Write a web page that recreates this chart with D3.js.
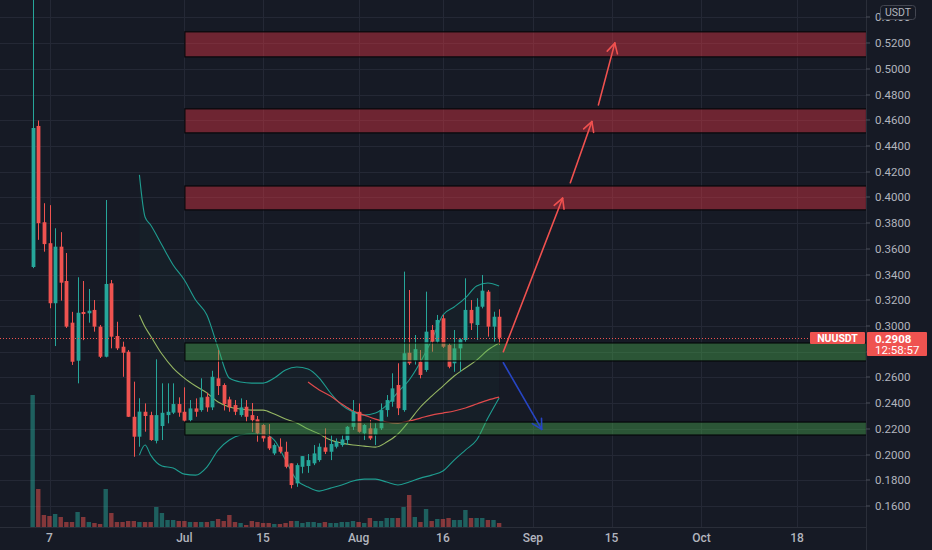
<!DOCTYPE html>
<html>
<head>
<meta charset="utf-8">
<script src="https://cdn.jsdelivr.net/npm/d3@7"></script>
<style>
  html, body { margin: 0; padding: 0; background: #161a25; }
  svg { display: block; font-family: "Roboto", "Liberation Sans", sans-serif; }
</style>
</head>
<body>
<svg id="chart" width="932" height="550"></svg>
<script>
// daily candles NUUSDT, 2021-06-04 .. 2021-08-26
var firstDay = "2021-06-04", lastDay = "2021-08-26";

var opens = [
  0.3459, 0.4556, 0.3807, 0.3644, 0.3177, 0.3617, 0.3350, 0.3026, 0.2730, 0.3109,
  0.3099, 0.3125, 0.2995, 0.2761, 0.3332, 0.2922, 0.2839, 0.2800, 0.2294, 0.2139,
  0.2333, 0.2307, 0.2107, 0.2222, 0.2307, 0.2326, 0.2393,
  0.2333, 0.2268, 0.2359, 0.2346, 0.2450, 0.2367, 0.2593, 0.2541, 0.2429, 0.2385,
  0.2307, 0.2372, 0.2307, 0.2274, 0.2230, 0.2139, 0.2009, 0.2061, 0.2022, 0.1932,
  0.1776, 0.1905, 0.1911, 0.1932, 0.1957, 0.2056, 0.2022, 0.2061, 0.2074, 0.2113, 0.2216,
  0.2333, 0.2165, 0.2204, 0.2152, 0.2204, 0.2346, 0.2411, 0.2541, 0.2346, 0.2792,
  0.2730, 0.2722, 0.2658, 0.2969, 0.2878, 0.3060, 0.2852, 0.2710, 0.2826, 0.2891,
  0.3125, 0.3008, 0.3150, 0.3267, 0.2995, 0.3072
];
var highs = [
  0.6000, 0.4598, 0.3955, 0.3940, 0.3760, 0.3730, 0.3568, 0.3110, 0.3379, 0.3350,
  0.3288, 0.3202, 0.3008, 0.3980, 0.3358, 0.3033, 0.2878, 0.2813, 0.2567, 0.2438,
  0.2398, 0.2333, 0.2741, 0.2554, 0.2554, 0.2554, 0.2445,
  0.2523, 0.2424, 0.2437, 0.2593, 0.2481, 0.2652, 0.2813, 0.2554, 0.2450, 0.2424,
  0.2437, 0.2424, 0.2401, 0.2300, 0.2237, 0.2237, 0.2087, 0.2126, 0.2100, 0.1932,
  0.1932, 0.1988, 0.2004, 0.2074, 0.2087, 0.2204, 0.2152, 0.2126, 0.2152, 0.2222, 0.2424,
  0.2398, 0.2237, 0.2268, 0.2243, 0.2398, 0.2463, 0.2632, 0.2710, 0.3423, 0.3280,
  0.2930, 0.2813, 0.3267, 0.3008, 0.3086, 0.3086, 0.2865, 0.2969, 0.2904, 0.3371,
  0.3202, 0.3216, 0.3397, 0.3280, 0.3111, 0.3130
];
var lows = [
  0.3450, 0.3670, 0.3578, 0.3138, 0.2844, 0.3197, 0.2985, 0.2697, 0.2554, 0.2890,
  0.3026, 0.2956, 0.2751, 0.2756, 0.2826, 0.2813, 0.2605, 0.2292, 0.1983, 0.2061,
  0.2178, 0.2107, 0.2087, 0.2113, 0.2243, 0.2315, 0.2294,
  0.2256, 0.2256, 0.2294, 0.2333, 0.2333, 0.2346, 0.2463, 0.2343, 0.2333, 0.2307,
  0.2294, 0.2256, 0.2177, 0.2100, 0.2100, 0.2035, 0.1996, 0.2009, 0.1893, 0.1737,
  0.1749, 0.1854, 0.1858, 0.1918, 0.1944, 0.2004, 0.1957, 0.2048, 0.2061, 0.2074, 0.2191,
  0.2170, 0.2113, 0.2113, 0.2074, 0.2191, 0.2294, 0.2372, 0.2307, 0.2333, 0.2697,
  0.2700, 0.2593, 0.2644, 0.2800, 0.2865, 0.2829, 0.2671, 0.2644, 0.2644, 0.2878,
  0.2969, 0.2891, 0.3137, 0.2917, 0.2878, 0.2852
];
var closes = [
  0.4540, 0.3800, 0.3637, 0.3177, 0.3617, 0.3337, 0.2995, 0.2722, 0.3103, 0.3093,
  0.3119, 0.2995, 0.2761, 0.3327, 0.2917, 0.2826, 0.2792, 0.2294, 0.2139, 0.2334,
  0.2300, 0.2113, 0.2307, 0.2325, 0.2333, 0.2393, 0.2326,
  0.2264, 0.2359, 0.2333, 0.2445, 0.2367, 0.2605, 0.2533, 0.2393, 0.2367, 0.2333,
  0.2367, 0.2294, 0.2268, 0.2165, 0.2126, 0.2048, 0.2074, 0.2022, 0.1905, 0.1763,
  0.1918, 0.1988, 0.1957, 0.2009, 0.2061, 0.2022, 0.2082, 0.2100, 0.2118, 0.2216, 0.2333,
  0.2177, 0.2230, 0.2126, 0.2204, 0.2346, 0.2424, 0.2515, 0.2360, 0.2788, 0.2710,
  0.2820, 0.2619, 0.2956, 0.2878, 0.3047, 0.2839, 0.2683, 0.2826, 0.2896, 0.3125,
  0.3021, 0.3150, 0.3275, 0.2995, 0.3072, 0.2908
];
var volumes = [
  132, 38, 12, 11, 13, 10, 5, 5, 15, 10,
  5, 4, 3, 38, 14, 5, 5, 6, 6, 5,
  5, 5, 20, 14, 7, 7, 6,
  6, 5, 5, 5, 5, 6, 8, 6, 12, 5,
  4, 2, 6, 5, 4, 4, 3, 3, 4, 6,
  6, 4, 5, 5, 4, 5, 4, 4, 5, 5, 6,
  5, 4, 9, 6, 6, 9, 9, 9, 20, 32,
  10, 5, 18, 6, 8, 8, 9, 7, 7, 17,
  9, 9, 9, 7, 7, 4
];

// Bollinger bands (20, 2)
var bandDates = [
  "2021-06-23", "2021-06-24", "2021-06-25", "2021-06-27", "2021-06-29", "2021-07-01",
  "2021-07-03", "2021-07-05", "2021-07-07", "2021-07-09", "2021-07-11", "2021-07-13",
  "2021-07-15", "2021-07-17", "2021-07-19", "2021-07-21", "2021-07-23", "2021-07-25",
  "2021-07-27", "2021-07-29", "2021-07-31", "2021-08-02", "2021-08-04", "2021-08-06",
  "2021-08-08", "2021-08-10", "2021-08-12", "2021-08-14", "2021-08-16", "2021-08-18",
  "2021-08-20", "2021-08-22", "2021-08-24", "2021-08-26"
];
var bandUpper = [
  0.4175, 0.3848, 0.3786, 0.3630, 0.3475, 0.3358, 0.3202, 0.3086, 0.2829, 0.2595,
  0.2564, 0.2556, 0.2556, 0.2595, 0.2658, 0.2681, 0.2665, 0.2595, 0.2479, 0.2385,
  0.2331, 0.2307, 0.2323, 0.2385, 0.2486, 0.2580, 0.2720, 0.2891, 0.3086, 0.3148,
  0.3218, 0.3311, 0.3335, 0.3311
];
var bandBasis = [
  0.3086, 0.2992, 0.2922, 0.2782, 0.2673, 0.2595, 0.2533, 0.2480, 0.2409, 0.2370,
  0.2354, 0.2346, 0.2346, 0.2315, 0.2276, 0.2245, 0.2198, 0.2160, 0.2113, 0.2089,
  0.2074, 0.2066, 0.2058, 0.2097, 0.2160, 0.2261, 0.2370, 0.2455, 0.2533, 0.2611,
  0.2673, 0.2735, 0.2813, 0.2868
];
var bandLower = [
  0.1996, 0.2074, 0.1996, 0.1911, 0.1895, 0.1848, 0.1840, 0.1903, 0.2035, 0.2113,
  0.2152, 0.2160, 0.2160, 0.2113, 0.1957, 0.1802, 0.1747, 0.1716, 0.1739, 0.1763,
  0.1794, 0.1809, 0.1809, 0.1786, 0.1763, 0.1786, 0.1817, 0.1840, 0.1872, 0.1957,
  0.2035, 0.2113, 0.2284, 0.2440
];

// 50 day moving average
var smaDates = [
  "2021-07-23", "2021-07-25", "2021-07-27", "2021-07-29", "2021-07-31", "2021-08-02",
  "2021-08-04", "2021-08-06", "2021-08-08", "2021-08-10", "2021-08-12", "2021-08-14",
  "2021-08-16", "2021-08-18", "2021-08-20", "2021-08-22", "2021-08-24", "2021-08-26"
];
var smaValues = [
  0.2564, 0.2502, 0.2455, 0.2393, 0.2339, 0.2307, 0.2276, 0.2253, 0.2245, 0.2261,
  0.2284, 0.2307, 0.2323, 0.2339, 0.2362, 0.2393, 0.2424, 0.2447
];

// drawn zones and arrows
var zoneStart = "2021-07-01";
var resistanceZones = [[0.5093, 0.5288], [0.4502, 0.4689], [0.3903, 0.4089]];
var supportZones = [[0.2728, 0.2868], [0.2152, 0.2253]];
var upArrows = [
  [["2021-08-26 18:00", 0.2800], ["2021-09-06 07:00", 0.3994]],
  [["2021-09-07 16:00", 0.4115], ["2021-09-11 12:00", 0.4590]],
  [["2021-09-12 16:00", 0.4720], ["2021-09-15 14:00", 0.5200]]
];
var downArrows = [
  [["2021-08-26 18:00", 0.2714], ["2021-09-02 14:00", 0.2196]]
];

// 0.28 sits under the last price label, so it gets a grid line but no text
var priceTicks = [0.16, 0.18, 0.20, 0.22, 0.24, 0.26, 0.28, 0.30, 0.32, 0.34, 0.36,
  0.38, 0.40, 0.42, 0.44, 0.46, 0.48, 0.50, 0.52, 0.54];
var hiddenTicks = [0.28];
var timeTicks = ["2021-06-07", "2021-07-01", "2021-07-15", "2021-08-01", "2021-08-16",
  "2021-09-01", "2021-09-15", "2021-10-01", "2021-10-18"];
var timeLabels = ["7", "Jul", "15", "Aug", "16", "Sep", "15", "Oct", "18"];

var symbol = "NUUSDT", currency = "USDT", countdown = "12:58:57";
var lastPrice = closes[closes.length - 1];

(function () {
  'use strict';
  var W = 932, H = 550, plotW = 866, plotH = 527;
  var upColor = "#26a69a", downColor = "#ef5350";
  var parseDay = d3.timeParse("%Y-%m-%d");
  var parseTime = d3.timeParse("%Y-%m-%d %H:%M");

  var days = d3.timeDay.range(parseDay(firstDay), d3.timeDay.offset(parseDay(lastDay), 1));
  var candles = days.map(function (d, i) {
    return {date: d, o: opens[i], h: highs[i], l: lows[i], c: closes[i], v: volumes[i]};
  });

  var x = d3.scaleTime()
    .domain([parseDay("2021-06-07"), parseDay("2021-10-18")])
    .range([49.5, 797]);
  var y = d3.scaleLinear().domain([0.16, 0.30]).range([506, 326]);
  var yVol = d3.scaleLinear().domain([0, d3.max(volumes)]).range([plotH, 395]);

  var svg = d3.select("#chart");
  svg.append("rect").attr("width", W).attr("height", H).attr("fill", "#161a25");

  svg.append("defs").append("clipPath").attr("id", "plot")
    .append("rect").attr("width", plotW).attr("height", plotH);

  // grid
  var grid = svg.append("g").attr("stroke", "#242835").attr("stroke-width", 1);
  grid.selectAll(".hg").data(priceTicks).enter().append("line")
    .attr("x1", 0).attr("x2", plotW)
    .attr("y1", function (d) { return Math.round(y(d)) + 0.5; })
    .attr("y2", function (d) { return Math.round(y(d)) + 0.5; });
  grid.selectAll(".vg").data(timeTicks).enter().append("line")
    .attr("y1", 0).attr("y2", plotH)
    .attr("x1", function (d) { return Math.round(x(parseDay(d))) + 0.5; })
    .attr("x2", function (d) { return Math.round(x(parseDay(d))) + 0.5; });

  var plot = svg.append("g").attr("clip-path", "url(#plot)");

  // volume
  plot.selectAll(".vol").data(candles).enter().append("rect")
    .attr("x", function (d) { return x(d.date) - 2.2; })
    .attr("width", 4.4)
    .attr("y", function (d) { return yVol(d.v); })
    .attr("height", function (d) { return plotH - yVol(d.v); })
    .attr("fill", function (d) { return d.c >= d.o ? upColor : downColor; })
    .attr("fill-opacity", 0.5);

  // bollinger bands
  var band = bandDates.map(function (d, i) {
    return {date: parseDay(d), up: bandUpper[i], mid: bandBasis[i], low: bandLower[i]};
  });
  plot.append("path").datum(band)
    .attr("fill", "#26a69a").attr("fill-opacity", 0.035)
    .attr("d", d3.area().curve(d3.curveMonotoneX)
      .x(function (d) { return x(d.date); })
      .y0(function (d) { return y(d.low); })
      .y1(function (d) { return y(d.up); }));
  ["up", "low"].forEach(function (k) {
    plot.append("path").datum(band)
      .attr("fill", "none").attr("stroke", "#1f9d90").attr("stroke-width", 1.1)
      .attr("d", d3.line().curve(d3.curveMonotoneX)
        .x(function (d) { return x(d.date); })
        .y(function (d) { return y(d[k]); }));
  });
  plot.append("path").datum(band)
    .attr("fill", "none").attr("stroke", "#96b763").attr("stroke-width", 1.1)
    .attr("d", d3.line().curve(d3.curveMonotoneX)
      .x(function (d) { return x(d.date); })
      .y(function (d) { return y(d.mid); }));

  var sma = smaDates.map(function (d, i) { return {date: parseDay(d), v: smaValues[i]}; });
  plot.append("path").datum(sma)
    .attr("fill", "none").attr("stroke", "#e04a4c").attr("stroke-width", 1.2)
    .attr("d", d3.line().curve(d3.curveMonotoneX)
      .x(function (d) { return x(d.date); })
      .y(function (d) { return y(d.v); }));

  // candles
  var candle = plot.selectAll(".candle").data(candles).enter().append("g")
    .attr("fill", function (d) { return d.c >= d.o ? upColor : downColor; })
    .attr("stroke", function (d) { return d.c >= d.o ? upColor : downColor; });
  candle.append("line")
    .attr("x1", function (d) { return Math.round(x(d.date)) + 0.5; })
    .attr("x2", function (d) { return Math.round(x(d.date)) + 0.5; })
    .attr("y1", function (d) { return y(d.h); })
    .attr("y2", function (d) { return y(d.l); })
    .attr("stroke-width", 1);
  candle.append("rect")
    .attr("stroke", "none")
    .attr("x", function (d) { return Math.round(x(d.date)) + 0.5 - 1.9; })
    .attr("width", 3.8)
    .attr("y", function (d) { return y(Math.max(d.o, d.c)); })
    .attr("height", function (d) { return Math.max(1, Math.abs(y(d.o) - y(d.c))); });

  // zones
  var zoneX = x(parseDay(zoneStart));
  function drawZones(list, fill) {
    plot.selectAll(null).data(list).enter().append("rect")
      .attr("x", zoneX + 0.5)
      .attr("width", plotW - zoneX)
      .attr("y", function (d) { return y(d[1]); })
      .attr("height", function (d) { return y(d[0]) - y(d[1]); })
      .attr("fill", fill)
      .attr("stroke", "#06070a").attr("stroke-width", 1.2);
  }
  drawZones(resistanceZones, "rgba(242,54,69,0.40)");
  drawZones(supportZones, "rgba(76,175,80,0.40)");

  // arrows
  function drawArrows(list, color) {
    list.forEach(function (a) {
      var x1 = x(parseTime(a[0][0])), y1 = y(a[0][1]);
      var x2 = x(parseTime(a[1][0])), y2 = y(a[1][1]);
      var ang = Math.atan2(y2 - y1, x2 - x1), len = 11, spread = 0.5;
      var g = plot.append("g").attr("stroke", color).attr("stroke-width", 1.6)
        .attr("stroke-linecap", "round").attr("fill", "none");
      g.append("line").attr("x1", x1).attr("y1", y1).attr("x2", x2).attr("y2", y2);
      [-spread, spread].forEach(function (s) {
        g.append("line").attr("x1", x2).attr("y1", y2)
          .attr("x2", x2 - len * Math.cos(ang + s))
          .attr("y2", y2 - len * Math.sin(ang + s));
      });
    });
  }
  drawArrows(upArrows, "#f0514f");
  drawArrows(downArrows, "#2745c4");

  // last price line
  var yLast = Math.round(y(lastPrice)) + 0.5;
  svg.append("line")
    .attr("x1", 0).attr("x2", plotW).attr("y1", yLast).attr("y2", yLast)
    .attr("stroke", downColor).attr("stroke-width", 1).attr("stroke-dasharray", "1,2");

  // axes borders
  svg.append("line").attr("x1", plotW + 0.5).attr("x2", plotW + 0.5)
    .attr("y1", 0).attr("y2", H).attr("stroke", "#2a2e39");
  svg.append("line").attr("x1", 0).attr("x2", plotW).attr("y1", plotH + 0.5)
    .attr("y2", plotH + 0.5).attr("stroke", "#2a2e39");

  // price axis
  var pa = svg.append("g").attr("transform", "translate(" + plotW + ",0)");
  var pt = pa.selectAll(".pt").data(priceTicks).enter().append("g")
    .attr("transform", function (d) { return "translate(0," + Math.round(y(d)) + ")"; });
  pt.append("line").attr("x1", 0).attr("x2", 4).attr("stroke", "#4a4e5a");
  pt.filter(function (d) { return hiddenTicks.indexOf(d) < 0; })
    .append("text").attr("x", 9).attr("dy", "0.35em")
    .attr("font-size", 11.5).attr("fill", "#b2b5be")
    .text(function (d) { return d3.format(".4f")(d); });

  // time axis
  svg.selectAll(".tl").data(timeTicks).enter().append("text")
    .attr("x", function (d) { return x(parseDay(d)); })
    .attr("y", 542)
    .attr("text-anchor", "middle")
    .attr("font-size", 12).attr("font-weight", 500).attr("fill", "#b2b5be")
    .text(function (d, i) { return timeLabels[i]; });

  // symbol and last price labels
  var yTop = yLast - 6.5;
  svg.append("rect").attr("x", 810).attr("y", yTop).attr("width", 55).attr("height", 12)
    .attr("rx", 1).attr("fill", downColor);
  svg.append("text").attr("x", 837.5).attr("y", yTop + 6).attr("dy", "0.35em")
    .attr("text-anchor", "middle").attr("font-size", 10.5).attr("font-weight", 700)
    .attr("fill", "#fff").text(symbol);
  svg.append("rect").attr("x", plotW + 1).attr("y", yTop).attr("width", 60).attr("height", 24)
    .attr("rx", 1).attr("fill", downColor);
  svg.append("text").attr("x", plotW + 9).attr("y", yTop + 6.5).attr("dy", "0.35em")
    .attr("font-size", 11.5).attr("font-weight", 700).attr("fill", "#fff")
    .text(d3.format(".4f")(lastPrice));
  svg.append("text").attr("x", plotW + 9).attr("y", yTop + 18).attr("dy", "0.35em")
    .attr("font-size", 11.5).attr("fill", "#fff").text(countdown);

  // currency badge
  svg.append("rect").attr("x", 880.5).attr("y", 5.5).attr("width", 35).attr("height", 14)
    .attr("rx", 3).attr("fill", "#161a25").attr("stroke", "#434651");
  svg.append("text").attr("x", 898).attr("y", 12.5).attr("dy", "0.35em")
    .attr("text-anchor", "middle").attr("font-size", 10.5).attr("fill", "#b2b5be")
    .text(currency);
})();
</script>
</body>
</html>
